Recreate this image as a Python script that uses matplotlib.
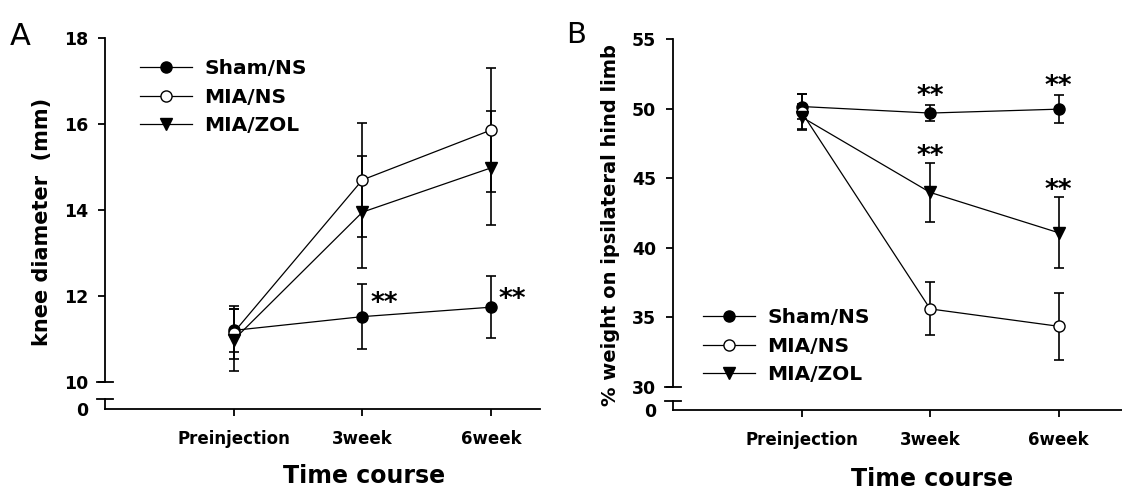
import matplotlib.pyplot as plt

# time points
categories = ["Preinjection", "3week", "6week"]
x_pos = [1, 2, 3]
groups = ["Sham/NS", "MIA/NS", "MIA/ZOL"]

# panel A: knee diameter (mm), mean and error
knee_sham = [11.2, 11.52, 11.74]
knee_sham_err = [0.5, 0.75, 0.72]
knee_mia_ns = [11.15, 14.7, 15.86]
knee_mia_ns_err = [0.62, 1.32, 1.45]
knee_mia_zol = [10.98, 13.95, 14.98]
knee_mia_zol_err = [0.72, 1.3, 1.33]

# panel B: % weight on ipsilateral hind limb
wt_sham = [50.15, 49.68, 49.96]
wt_sham_err = [0.9, 0.55, 1.0]
wt_mia_ns = [49.75, 35.61, 34.36]
wt_mia_ns_err = [1.3, 1.9, 2.4]
wt_mia_zol = [49.4, 43.98, 41.08]
wt_mia_zol_err = [0.9, 2.1, 2.55]

# significance marks (x, y)
stars_a_x = [2.06, 3.06]
stars_a_y = [11.64, 11.74]
stars_b_x = [2, 3, 2, 3]
stars_b_y = [50.35, 51.05, 46.05, 43.6]

W, H = 1122, 492
fig = plt.figure(figsize=(W / 100, H / 100), dpi=100)


def box(l, t, r, b):
    return [l / W, 1 - b / H, (r - l) / W, (b - t) / H]


styles = [dict(marker="o", mfc="black", ms=8),
          dict(marker="o", mfc="white", ms=8),
          dict(marker="v", mfc="black", ms=8)]


def panel(ax, ax0, means, errs, ylim, yticks, xmax):
    handles = []
    for m, e, st, name in zip(means, errs, styles, groups):
        ax.errorbar(x_pos, m, yerr=e, fmt="none", ecolor="black",
                    elinewidth=1.2, capsize=3.8, capthick=1.2, zorder=2)
        ln, = ax.plot(x_pos, m, color="black", lw=0.9, marker=st["marker"],
                      ms=st["ms"], mfc=st["mfc"], mec="black", mew=1.0,
                      label=name, zorder=3, clip_on=False)
        handles.append(ln)
    ax.set_xlim(0, xmax)
    ax.set_ylim(*ylim)
    ax.set_yticks(yticks)
    for s in ["top", "right", "bottom"]:
        ax.spines[s].set_visible(False)
    ax.spines["left"].set_linewidth(1.3)
    ax.tick_params(axis="y", length=5, width=1.3, pad=7, labelsize=12.5)
    ax.set_xticks([])
    for t in ax.get_yticklabels():
        t.set_fontweight("bold")

    ax0.set_xlim(0, xmax)
    ax0.set_ylim(0, 1)
    ax0.set_yticks([0])
    ax0.set_yticklabels(["0"])
    for s in ["top", "right"]:
        ax0.spines[s].set_visible(False)
    ax0.spines["left"].set_linewidth(1.3)
    ax0.spines["bottom"].set_linewidth(1.3)
    ax0.tick_params(axis="y", length=0, pad=12, labelsize=12.5)
    ax0.set_xticks(x_pos)
    ax0.set_xticklabels(categories)
    ax0.tick_params(axis="x", length=5, width=1.3, pad=10, labelsize=12)
    for t in ax0.get_yticklabels() + ax0.get_xticklabels():
        t.set_fontweight("bold")

    # axis break marks
    d = 8 / (ax.get_position().width * W)
    ax.plot([-d, d], [0, 0], transform=ax.transAxes, color="black",
            lw=1.3, clip_on=False)
    ax0.plot([-d, d], [1, 1], transform=ax0.transAxes, color="black",
             lw=1.3, clip_on=False)
    return handles


def legend(ax, handles, x, y):
    ax.legend(handles=handles, loc="upper left", bbox_to_anchor=(x / W, 1 - y / H),
              bbox_transform=fig.transFigure, frameon=False,
              prop={"weight": "bold", "size": 14.5}, handlelength=2.6,
              handletextpad=0.6, labelspacing=0.48, borderpad=0, borderaxespad=0)


# ---- panel A
axA = fig.add_axes(box(105, 38, 540, 382))
axA0 = fig.add_axes(box(105, 399, 540, 409))
hA = panel(axA, axA0, [knee_sham, knee_mia_ns, knee_mia_zol],
           [knee_sham_err, knee_mia_ns_err, knee_mia_zol_err],
           (10, 18), [10, 12, 14, 16, 18], 3.38)
for x, y in zip(stars_a_x, stars_a_y):
    axA.text(x, y, "**", fontsize=19, fontweight="bold", ha="left", va="baseline")
legend(axA, hA, 140, 59)

# ---- panel B
axB = fig.add_axes(box(673, 39, 1123, 387))
axB0 = fig.add_axes(box(673, 401, 1123, 410))
hB = panel(axB, axB0, [wt_sham, wt_mia_ns, wt_mia_zol],
           [wt_sham_err, wt_mia_ns_err, wt_mia_zol_err],
           (30, 55), [30, 35, 40, 45, 50, 55], 3.5)
for x, y in zip(stars_b_x, stars_b_y):
    axB.text(x, y, "**", fontsize=19, fontweight="bold", ha="center", va="baseline")
legend(axB, hB, 703, 308)

# labels
fig.text(42 / W, 1 - 222 / H, "knee diameter  (mm)", rotation=90, fontsize=15,
         fontweight="bold", ha="center", va="center")
fig.text(611 / W, 1 - 225 / H, "% weight on ipsilateral hind limb", rotation=90,
         fontsize=14, fontweight="bold", ha="center", va="center")
fig.text(364 / W, 1 - 483 / H, "Time course", fontsize=17, fontweight="bold",
         ha="center", va="baseline")
fig.text(932 / W, 1 - 486 / H, "Time course", fontsize=17, fontweight="bold",
         ha="center", va="baseline")
fig.text(10 / W, 1 - 45 / H, "A", fontsize=22, ha="left", va="baseline")
fig.text(566 / W, 1 - 43 / H, "B", fontsize=21, ha="left", va="baseline")

fig.savefig("out.png", dpi=100)
